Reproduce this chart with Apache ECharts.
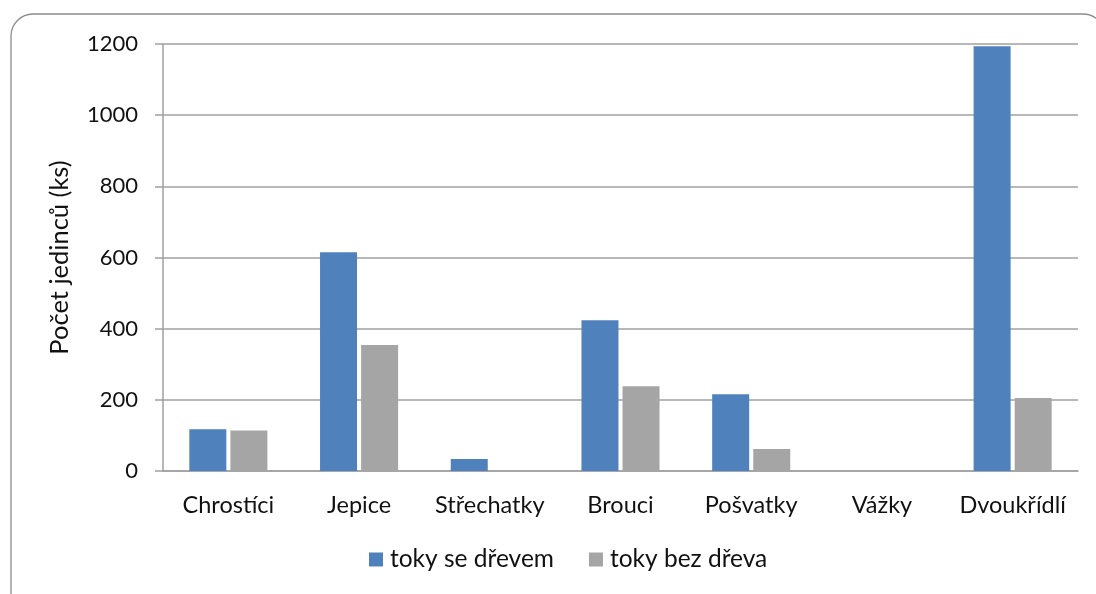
<!DOCTYPE html>
<html><head><meta charset="utf-8">
<script src="https://cdn.jsdelivr.net/npm/echarts@6/dist/echarts.min.js"></script>
<style>html,body{margin:0;padding:0;background:#fff}#c{width:1096px;height:594px}</style>
</head><body><div id="c"></div>
<script>
const categories = ['Chrostíci','Jepice','Střechatky','Brouci','Pošvatky','Vážky','Dvoukřídlí'];
const seriesNames = ['toky se dřevem','toky bez dřeva'];
const withWood = [117, 615, 34, 424, 216, 0, 1194];
const withoutWood = [114, 354, 0, 238, 62, 0, 205];
const yTicks = [0, 200, 400, 600, 800, 1000, 1200];
const yTitle = 'Počet jedinců (ks)';

const FONT = 'Lato';
const chart = echarts.init(document.getElementById('c'), null, {renderer:'canvas'});
chart.setOption({
  animation:false,
  textStyle:{fontFamily:FONT},
  graphic:[{type:'rect',shape:{x:11,y:14,width:1094,height:610,r:22},style:{fill:'none',stroke:'#8c8c8c',lineWidth:1.3},z:-1}],
  grid:{left:163,right:18,top:44,bottom:123,containLabel:false},
  legend:{
    data:seriesNames, bottom:17, left:364, itemWidth:14, itemHeight:14, itemGap:35,
    icon:'rect', textStyle:{fontSize:24.5,color:'#111',fontFamily:FONT,padding:[0,0,0,2]}
  },
  xAxis:{
    type:'category', data:categories,
    axisLine:{lineStyle:{color:'#a0a0a0',width:1.5}},
    axisTick:{alignWithLabel:false,length:9,lineStyle:{color:'#a0a0a0',width:1.5}},
    axisLabel:{interval:0,fontSize:23.5,color:'#111',margin:22,fontFamily:FONT}
  },
  yAxis:{
    type:'value', min:yTicks[0], max:yTicks[yTicks.length-1], interval:200,
    name:yTitle, nameLocation:'middle', nameGap:90, nameRotate:90,
    nameTextStyle:{fontSize:25.5,color:'#111',fontFamily:FONT},
    axisLine:{show:true,lineStyle:{color:'#a0a0a0',width:1.5}},
    axisTick:{show:true,length:8,lineStyle:{color:'#a0a0a0',width:1.5}},
    axisLabel:{fontSize:22,color:'#111',margin:25,fontFamily:FONT,formatter:v=>String(v)},
    splitLine:{lineStyle:{color:'#a0a0a0',width:1.5}}
  },
  series:[
    {name:seriesNames[0],type:'bar',data:withWood,barWidth:37,barGap:'11%',
     itemStyle:{color:'#4f81bd'}},
    {name:seriesNames[1],type:'bar',data:withoutWood,barWidth:37,
     itemStyle:{color:'#a5a5a5'}}
  ]
});
</script></body></html>
